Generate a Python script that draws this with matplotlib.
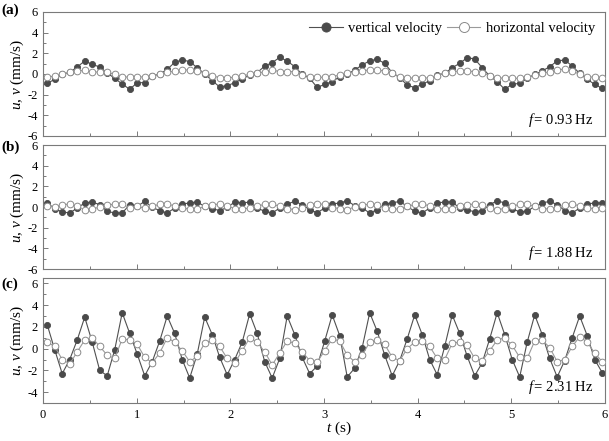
import numpy as np
import matplotlib
matplotlib.use('Agg')
import matplotlib.pyplot as plt
from matplotlib.ticker import MultipleLocator, NullFormatter

plt.rcParams['font.family'] = ['Liberation Serif', 'DejaVu Serif']
plt.rcParams['mathtext.fontset'] = 'custom'
plt.rcParams['mathtext.rm'] = 'Liberation Serif'
plt.rcParams['mathtext.it'] = 'Liberation Serif:italic'
plt.rcParams['axes.unicode_minus'] = False

# ---------------- data ----------------
time_s = np.linspace(0.045, 5.97, 75)

vertical_a = [-0.90, -0.52, -0.03, 0.16, 0.68, 1.26, 0.93, 0.68, 0.10, -0.42,
              -0.97, -1.48, -0.84, -0.84, -0.19, 0.00, 0.45, 1.13, 1.36, 1.20,
              0.61, 0.00, -0.64, -1.26, -1.13, -0.84, -0.48, -0.10, 0.13, 0.77,
              1.10, 1.61, 1.26, 0.71, -0.03, -0.42, -1.30, -1.00, -0.74, -0.26,
              0.00, 0.39, 0.87, 1.29, 1.42, 1.03, 0.13, -0.36, -1.07, -1.32,
              -1.00, -0.64, -0.10, 0.06, 0.61, 1.03, 1.58, 1.45, 0.61, -0.19,
              -0.74, -1.48, -1.00, -0.90, -0.42, -0.03, 0.29, 0.71, 1.26, 1.36,
              0.77, 0.06, -0.52, -1.00, -1.39]
horizontal_a = [-0.32, -0.19, -0.03, 0.16, 0.29, 0.36, 0.23, 0.16, 0.16, -0.03,
                -0.26, -0.32, -0.32, -0.26, -0.16, -0.03, 0.16, 0.29, 0.39, 0.39,
                0.29, 0.13, -0.16, -0.36, -0.36, -0.32, -0.19, -0.03, 0.06, 0.23,
                0.39, 0.23, 0.23, 0.23, -0.10, -0.26, -0.32, -0.32, -0.26, -0.10,
                0.06, 0.23, 0.32, 0.39, 0.39, 0.29, 0.06, -0.26, -0.36, -0.42,
                -0.42, -0.36, -0.16, 0.06, 0.23, 0.29, 0.29, 0.23, 0.13, -0.16,
                -0.36, -0.42, -0.42, -0.42, -0.32, -0.10, 0.06, 0.23, 0.39, 0.48,
                0.29, -0.03, -0.26, -0.32, -0.42]

vertical_b = [0.39, -0.16, -0.48, -0.58, -0.10, 0.39, 0.48, 0.23, -0.42, -0.58,
              -0.58, 0.23, 0.06, 0.55, -0.03, -0.35, -0.58, -0.10, 0.29, 0.39,
              0.48, 0.06, -0.16, -0.35, -0.03, 0.48, 0.39, 0.48, -0.10, -0.42,
              -0.58, -0.10, 0.29, 0.55, 0.23, -0.26, -0.55, -0.10, 0.29, 0.39,
              0.60, 0.13, -0.10, -0.58, -0.26, 0.29, 0.39, 0.55, 0.06, -0.42,
              -0.58, -0.10, 0.39, 0.48, 0.48, -0.10, -0.26, -0.48, -0.35, 0.23,
              0.60, 0.39, -0.16, -0.48, -0.42, 0.06, 0.39, 0.55, 0.23, -0.35,
              -0.58, -0.10, 0.29, 0.39, 0.39]
horizontal_b = [0.10, 0.00, 0.20, 0.30, 0.05, -0.25, -0.20, 0.00, 0.15, 0.30,
                0.25, -0.05, 0.05, -0.10, 0.10, 0.25, 0.30, 0.10, -0.10, -0.20,
                -0.20, 0.05, 0.20, 0.30, 0.10, -0.15, -0.20, -0.10, 0.10, 0.25,
                0.30, 0.05, -0.15, -0.25, -0.05, 0.20, 0.30, 0.25, -0.05, -0.15,
                -0.25, 0.00, 0.15, 0.30, 0.20, -0.10, -0.20, -0.20, 0.05, 0.25,
                0.30, 0.10, -0.15, -0.20, -0.15, 0.10, 0.20, 0.30, 0.20, -0.05,
                -0.25, -0.15, 0.10, 0.25, 0.25, 0.05, -0.15, -0.20, -0.05, 0.20,
                0.30, 0.10, -0.10, -0.15, -0.05]

vertical_c = [2.2, -0.1, -2.3, -1.0, 0.8, 2.9, 0.6, -2.0, -2.5, -0.1,
              3.3, 1.4, -0.5, -2.5, -1.2, 0.7, 3.0, 1.4, -1.0, -2.7,
              -0.5, 2.9, 1.3, -0.8, -2.4, -1.0, 0.6, 3.2, 1.4, -1.2,
              -2.7, -0.9, 3.0, 1.3, -0.8, -2.3, -1.6, 0.7, 3.1, 1.2,
              -2.6, -1.8, 0.1, 3.3, 1.6, -0.6, -2.5, -1.1, 0.9, 3.1,
              1.3, -1.0, -2.4, 0.2, 3.1, 1.4, -0.7, -2.5, -1.3, 0.9,
              3.3, 1.3, -1.0, -2.6, 0.6, 3.1, 1.3, -0.9, -2.6, -1.1,
              1.0, 3.0, 1.2, -1.0, -2.2]
horizontal_c = [0.6, 0.2, -1.0, -1.4, -0.3, 0.8, 1.0, 0.2, -0.6, -0.9,
                0.9, 0.8, 0.4, -0.8, -1.3, -0.4, 1.0, 0.6, -0.2, -1.2,
                -0.7, 0.5, 0.8, 0.2, -0.9, -1.3, -0.2, 1.0, 0.6, -0.3,
                -1.5, -0.4, 0.7, 0.5, -0.3, -1.1, -1.2, -0.2, 0.9, 0.7,
                -0.6, -1.2, -0.6, 0.6, 0.8, 0.4, -0.8, -1.1, 0.0, 0.6,
                0.7, 0.2, -0.9, -1.0, 0.5, 0.6, 0.3, -0.9, -1.1, -0.2,
                0.8, 1.0, 0.3, -0.8, -0.9, 0.7, 0.8, 0.1, -1.2, -1.0,
                0.2, 1.1, 0.6, -0.4, -1.2]

panel_labels = ['(a)', '(b)', '(c)']
freq_labels = ['0.93', '1.88', '2.31']
series_v = [vertical_a, vertical_b, vertical_c]
series_h = [horizontal_a, horizontal_b, horizontal_c]
ylims = [(-6, 6), (-6, 6), (-5, 6.5)]
yticks = [[-6, -4, -2, 0, 2, 4, 6], [-6, -4, -2, 0, 2, 4, 6], [-4, -2, 0, 2, 4, 6]]

# ---------------- figure ----------------
W, H = 609, 441
fig = plt.figure(figsize=(W / 100, H / 100), dpi=100)
left = 43 / W
width = 562 / W
boxes = [(136, 124), (269, 124), (403, 125)]
label_y = [10, 147, 284]

spine_col = '#7a7a7a'
dark = '#4a4a4a'
light = '#8a8a8a'

for k in range(3):
    bottom_px, h_px = boxes[k]
    ax = fig.add_axes([left, 1 - bottom_px / H, width, h_px / H])
    lv, = ax.plot(time_s, series_v[k], '-', color='#505050', lw=0.8,
                  marker='o', ms=4.4, mfc=dark, mec=dark, mew=0.6,
                  label='vertical velocity', zorder=2)
    lh, = ax.plot(time_s, series_h[k], '-', color='#9a9a9a', lw=0.8,
                  marker='o', ms=4.8, mfc='white', mec=light, mew=0.7,
                  label='horizontal velocity', zorder=3)
    ax.set_xlim(0, 6)
    ax.set_ylim(*ylims[k])
    ax.set_yticks(yticks[k])
    ax.yaxis.set_minor_locator(MultipleLocator(1))
    ax.xaxis.set_major_locator(MultipleLocator(1))
    ax.xaxis.set_minor_locator(MultipleLocator(0.5))
    ax.tick_params(which='both', direction='in', color=spine_col, width=0.7,
                   labelsize=9, pad=4)
    ax.tick_params(axis='y', pad=3.5)
    ax.tick_params(which='major', length=3.5)
    ax.tick_params(which='minor', length=2.5)
    for s in ax.spines.values():
        s.set_color(spine_col)
        s.set_linewidth(0.8)
    if k < 2:
        ax.xaxis.set_major_formatter(NullFormatter())
    ax.set_ylabel(r'$u$, $v$ (mm/s)', fontsize=11)
    ax.yaxis.set_label_coords(-0.03, 0.5)
    ax.text(0.979, 0.13, r'$f\,$= ' + freq_labels[k] + ' Hz', transform=ax.transAxes,
            ha='right', va='center', fontsize=10.5)
    fig.text(1 / W, 1 - label_y[k] / H, panel_labels[k], fontsize=11,
             fontweight='bold', ha='left', va='center')
    if k == 0:
        ax.legend(loc='upper right', bbox_to_anchor=(1.0, 1.0), ncol=2,
                  frameon=False, fontsize=10.5, handlelength=2.3,
                  handletextpad=0.35, columnspacing=0.35, markerscale=1.5,
                  borderaxespad=0.3)

fig.text(339 / W, 1 - 428 / H, r'$t$ (s)', fontsize=11, ha='center', va='center')

fig.savefig('out.png', dpi=100)
